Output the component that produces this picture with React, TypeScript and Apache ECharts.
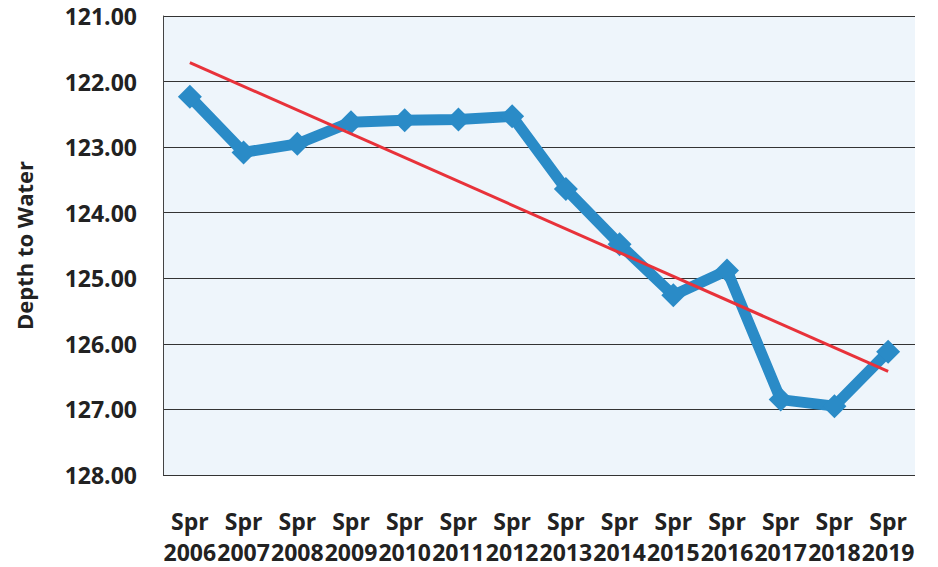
import React, { useEffect, useRef } from "react";
import * as echarts from "echarts";

const seasons = ["Spr", "Spr", "Spr", "Spr", "Spr", "Spr", "Spr", "Spr", "Spr", "Spr", "Spr", "Spr", "Spr", "Spr"];
const years = ["2006", "2007", "2008", "2009", "2010", "2011", "2012", "2013", "2014", "2015", "2016", "2017", "2018", "2019"];
const depthToWater = [122.23, 123.08, 122.95, 122.62, 122.59, 122.58, 122.53, 123.64, 124.48, 125.26, 124.88, 126.85, 126.95, 126.12];
const trendStart = 121.71;
const trendEnd = 126.42;
const yTicks = { min: 121, max: 128, interval: 1 };

export default function App() {
  const ref = useRef<HTMLDivElement>(null);
  useEffect(() => {
    const chart = echarts.init(ref.current!, null, { renderer: "svg" });
    const categories = years.map((y, i) => seasons[i] + "\n" + y);
    const trend = depthToWater.map((_, i) =>
      i === 0 ? trendStart : i === depthToWater.length - 1 ? trendEnd : null
    );
    const font = "'Open Sans', 'DejaVu Sans', sans-serif";
    chart.setOption({
      animation: false,
      backgroundColor: "#ffffff",
      grid: {
        left: 163,
        right: 23,
        top: 16,
        bottom: 89,
        show: true,
        backgroundColor: "#eef5fb",
        borderWidth: 0,
      },
      xAxis: {
        type: "category",
        data: categories,
        boundaryGap: true,
        axisLine: { show: false },
        axisTick: { show: false },
        axisLabel: {
          interval: 0,
          margin: 30,
          color: "#222",
          fontFamily: font,
          fontWeight: "bold",
          fontSize: 23,
          lineHeight: 31,
        },
      },
      yAxis: {
        type: "value",
        inverse: true,
        min: yTicks.min,
        max: yTicks.max,
        interval: yTicks.interval,
        name: "Depth to Water",
        nameLocation: "middle",
        nameGap: 128,
        nameRotate: 90,
        nameTextStyle: {
          color: "#222",
          fontFamily: font,
          fontWeight: "bold",
          fontSize: 22,
        },
        axisLine: { show: true, lineStyle: { color: "#444", width: 1 } },
        axisTick: { show: false },
        splitLine: { show: true, lineStyle: { color: "#333", width: 1 } },
        axisLabel: {
          margin: 26,
          color: "#222",
          fontFamily: font,
          fontWeight: "bold",
          fontSize: 23,
          formatter: (v: number) => v.toFixed(2),
        },
      },
      series: [
        {
          type: "line",
          data: depthToWater,
          symbol: "diamond",
          symbolSize: 24,
          lineStyle: { color: "#2a8bc7", width: 11 },
          itemStyle: { color: "#2a8bc7" },
          z: 2,
        },
        {
          type: "line",
          data: trend,
          connectNulls: true,
          symbol: "none",
          lineStyle: { color: "#e8323a", width: 3 },
          z: 3,
        },
      ],
    });
    return () => chart.dispose();
  }, []);
  return (
    <div
      ref={ref}
      style={{ position: "fixed", left: 0, top: 0, width: 938, height: 567 }}
    />
  );
}
